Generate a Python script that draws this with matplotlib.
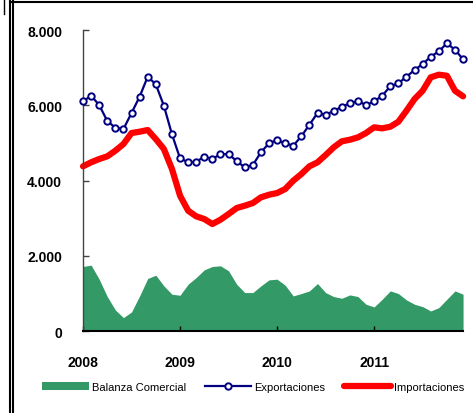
import matplotlib
matplotlib.use("Agg")
import matplotlib.pyplot as plt
import numpy as np
from matplotlib.ticker import FuncFormatter
from matplotlib.lines import Line2D
from matplotlib.patches import Patch

plt.rcParams['font.family'] = ['Liberation Sans', 'DejaVu Sans']

# monthly data, Jan 2008 - Dec 2011 (millones US$)
years = ["2008", "2009", "2010", "2011"]

exportaciones = [6105, 6254, 6007, 5582, 5404, 5369, 5794, 6228, 6760, 6557, 5989, 5228,
                 4590, 4484, 4500, 4633, 4572, 4705, 4700, 4519, 4351, 4412, 4750, 4989,
                 5077, 4989, 4926, 5175, 5484, 5794, 5750, 5848, 5963, 6052, 6113, 6007,
                 6105, 6254, 6504, 6584, 6760, 6937, 7097, 7291, 7434, 7647, 7477, 7222]

importaciones = [4378, 4484, 4572, 4643, 4793, 4970, 5263, 5298, 5343, 5103, 4838, 4306,
                 3597, 3198, 3048, 2977, 2844, 2959, 3110, 3269, 3331, 3402, 3553, 3623,
                 3668, 3774, 3995, 4173, 4378, 4484, 4678, 4882, 5042, 5085, 5148, 5263,
                 5414, 5387, 5430, 5563, 5856, 6167, 6387, 6743, 6813, 6786, 6387, 6238]

balanza = [1716, 1751, 1378, 916, 560, 356, 507, 933, 1396, 1485, 1200, 978,
           951, 1245, 1422, 1627, 1716, 1734, 1600, 1245, 1022, 1022, 1200, 1360,
           1378, 1218, 933, 996, 1067, 1262, 1022, 916, 871, 960, 916, 711,
           640, 845, 1067, 996, 827, 711, 649, 533, 622, 845, 1067, 978]

months = np.arange(len(exportaciones))

green = '#339966'
navy = '#000080'
red = '#ff0000'

fig = plt.figure(figsize=(4.73, 4.14), dpi=100)
ax = fig.add_axes([0.1755, 0.198, 0.979 - 0.1755, 0.925 - 0.198])

ax.fill_between(months, 0, balanza, color=green, linewidth=0, zorder=1)
ax.plot(months, exportaciones, color=navy, linewidth=1.6, marker='o', markersize=4.6,
        markerfacecolor='white', markeredgecolor=navy, markeredgewidth=1.4,
        clip_on=False, zorder=3)
ax.plot(months, importaciones, color=red, linewidth=4.5, solid_capstyle='round',
        solid_joinstyle='round', clip_on=False, zorder=2)

ax.set_xlim(0, len(months) - 1)
ax.set_ylim(0, 8000)
ax.set_yticks([0, 2000, 4000, 6000, 8000])
ax.yaxis.set_major_formatter(FuncFormatter(lambda v, p: f"{int(v):,}".replace(",", ".")))
ax.set_xticks(np.arange(len(years)) * 12)
ax.set_xticklabels(years)

for s in ['top', 'right']:
    ax.spines[s].set_visible(False)
ax.spines['left'].set_color('#444444')
ax.spines['left'].set_linewidth(1.0)
ax.spines['bottom'].set_color('black')
ax.spines['bottom'].set_linewidth(1.5)

ax.tick_params(axis='y', direction='in', length=4, width=1, color='#444444', pad=15,
               labelsize=10)
ax.tick_params(axis='x', direction='in', length=3.5, width=1, color='black', pad=17,
               labelsize=10)
for lab in ax.get_xticklabels() + ax.get_yticklabels():
    lab.set_fontweight('bold')

handles = [Patch(facecolor=green, edgecolor='none'),
           Line2D([], [], color=navy, linewidth=1.6, marker='o', markersize=4.6,
                  markerfacecolor='white', markeredgewidth=1.4, markevery=[1]),
           Line2D([], [], color=red, linewidth=4.5, solid_capstyle='round')]
labels = ["Balanza Comercial", "Exportaciones", "Importaciones"]
fig.legend(handles, labels, loc='center', bbox_to_anchor=(0.535, 0.063), ncol=3,
           frameon=False, fontsize=8, handlelength=4.2, handleheight=0.8,
           handletextpad=0.25, columnspacing=1.7, borderpad=0)

# page frame lines from the source document
W, H = 473, 414
def fline(x0, y0, x1, y1, lw=1.5):
    fig.add_artist(Line2D([x0 / W, x1 / W], [1 - y0 / H, 1 - y1 / H],
                          color='black', linewidth=lw, transform=fig.transFigure))

fline(9.5, 2, 9.5, 414)
fline(12.5, 2, 12.5, 414)
fline(9.5, 2.5, 473, 2.5)
fline(4, 0, 4, 15, lw=1.0)

fig.savefig('out.png', dpi=100)
